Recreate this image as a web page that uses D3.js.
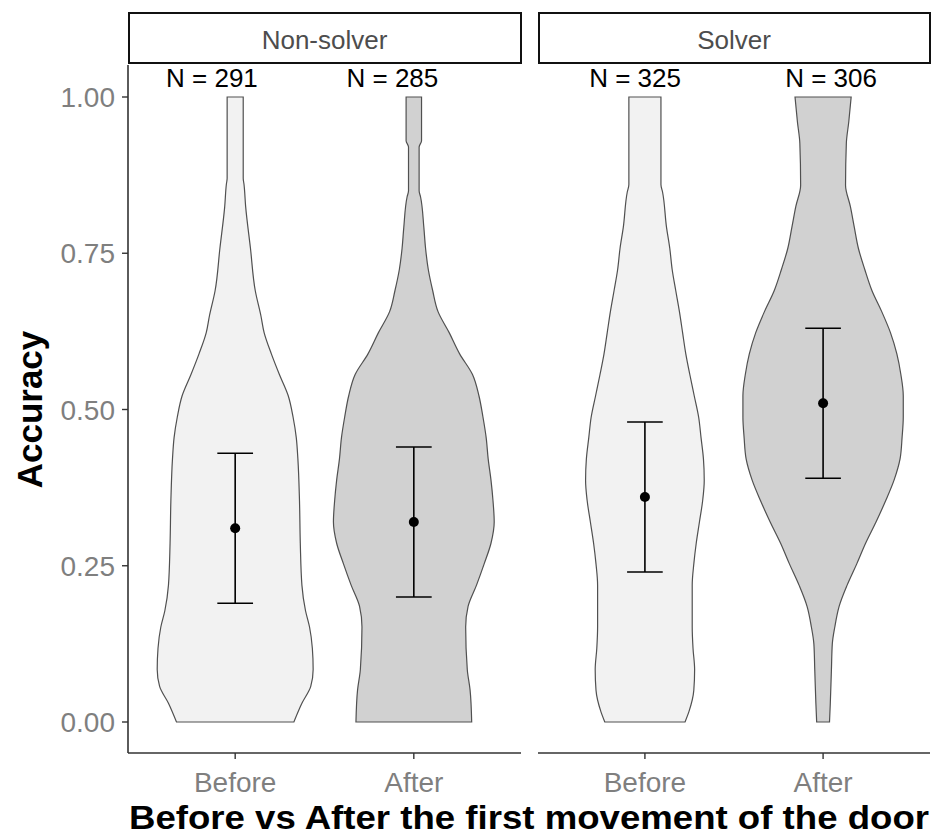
<!DOCTYPE html>
<html>
<head>
<meta charset="utf-8">
<script src="https://cdn.jsdelivr.net/npm/d3@7"></script>
<style>
  html, body { margin: 0; padding: 0; background: #fff; }
  svg { display: block; font-family: "Liberation Sans", Arial, sans-serif; }
</style>
</head>
<body>
<svg id="chart" width="940" height="837"></svg>
<script>
// ---------------- data ----------------
const groups = ["Non-solver", "Solver"];
const conditions = ["Before", "After"];
const nCounts = [[291, 285], [325, 306]];
const yTicks = [0, 0.25, 0.5, 0.75, 1.0];

const means = [[0.31, 0.32], [0.36, 0.51]];
const lowers = [[0.19, 0.20], [0.24, 0.39]];
const uppers = [[0.43, 0.44], [0.48, 0.63]];

// violin profiles: accuracy level and relative density
const accNSBefore  = [0, 0.030, 0.057, 0.084, 0.118, 0.152, 0.178, 0.219, 0.286, 0.354, 0.421, 0.455, 0.488, 0.522, 0.556, 0.589, 0.623, 0.650, 0.690, 0.758, 0.825, 0.860, 0.870, 1.0];
const densNSBefore = [0.73, 0.83, 0.94, 0.97, 0.96, 0.925, 0.875, 0.83, 0.81, 0.80, 0.78, 0.76, 0.72, 0.66, 0.55, 0.45, 0.36, 0.32, 0.25, 0.19, 0.13, 0.11, 0.10, 0.10];

const accNSAfter  = [0, 0.051, 0.084, 0.152, 0.185, 0.219, 0.253, 0.286, 0.320, 0.354, 0.387, 0.421, 0.455, 0.488, 0.522, 0.556, 0.589, 0.623, 0.657, 0.690, 0.724, 0.758, 0.791, 0.840, 0.850, 0.920, 0.930, 1.0];
const densNSAfter = [0.72, 0.70, 0.665, 0.645, 0.675, 0.78, 0.875, 0.96, 1.0, 0.985, 0.96, 0.925, 0.90, 0.86, 0.81, 0.73, 0.57, 0.44, 0.30, 0.235, 0.18, 0.146, 0.125, 0.084, 0.066, 0.066, 0.096, 0.096];

const accSBefore  = [0, 0.017, 0.051, 0.084, 0.118, 0.152, 0.219, 0.253, 0.286, 0.320, 0.354, 0.387, 0.421, 0.455, 0.488, 0.522, 0.556, 0.589, 0.623, 0.657, 0.690, 0.724, 0.758, 0.791, 0.848, 0.860, 1.0];
const densSBefore = [0.50, 0.55, 0.61, 0.62, 0.60, 0.59, 0.59, 0.61, 0.64, 0.68, 0.72, 0.74, 0.73, 0.70, 0.67, 0.615, 0.56, 0.51, 0.47, 0.43, 0.385, 0.34, 0.31, 0.27, 0.22, 0.20, 0.20];

const accSAfter  = [0, 0.030, 0.084, 0.125, 0.152, 0.185, 0.219, 0.253, 0.286, 0.320, 0.354, 0.387, 0.421, 0.455, 0.488, 0.522, 0.556, 0.589, 0.623, 0.657, 0.690, 0.724, 0.758, 0.791, 0.825, 0.859, 0.926, 0.960, 1.0];
const densSAfter = [0.08, 0.09, 0.104, 0.115, 0.146, 0.20, 0.30, 0.42, 0.53, 0.66, 0.78, 0.885, 0.96, 0.985, 1.0, 1.0, 0.97, 0.92, 0.84, 0.73, 0.61, 0.52, 0.44, 0.39, 0.34, 0.28, 0.29, 0.32, 0.35];

const violinAcc  = [[accNSBefore, accNSAfter], [accSBefore, accSAfter]];
const violinDens = [[densNSBefore, densNSAfter], [densSBefore, densSAfter]];

// N-label horizontal nudges (category units)
const nNudges = [[-0.13, -0.12], [-0.055, 0.045]];

// ---------------- layout ----------------
const svg = d3.select("#chart");
const panelX = [[128, 521], [538, 930]];
const panelTop = 65, panelBottom = 753;
const fillColors = { "Before": "#f2f2f2", "After": "#d1d1d1" };

const y = d3.scaleLinear().domain([0, 1]).range([722, 97]);

// y axis (left panel only)
const yAxisG = svg.append("g").attr("transform", `translate(${panelX[0][0]},0)`);
yAxisG.append("line").attr("x1", 0).attr("x2", 0).attr("y1", panelTop).attr("y2", panelBottom)
  .attr("stroke", "#333").attr("stroke-width", 1.6);
yTicks.forEach(t => {
  yAxisG.append("line").attr("x1", -6).attr("x2", 0).attr("y1", y(t)).attr("y2", y(t))
    .attr("stroke", "#333").attr("stroke-width", 1.4);
  yAxisG.append("text").attr("x", -13).attr("y", y(t)).attr("dy", "0.36em")
    .attr("text-anchor", "end").attr("fill", "#7f7f7f").attr("font-size", 28)
    .text(d3.format(".2f")(t));
});

svg.append("text")
  .attr("transform", `translate(42,${y(0.5)}) rotate(-90)`)
  .attr("text-anchor", "middle").attr("font-weight", "bold").attr("font-size", 35)
  .attr("fill", "#000").text("Accuracy");

groups.forEach((g, gi) => {
  const [x0, x1] = panelX[gi];
  const x = d3.scalePoint().domain(conditions).range([x0, x1]).padding(0.6);
  const unit = x.step();
  const w = d3.scaleLinear().domain([0, 1]).range([0, unit * 0.45]);

  // strip
  svg.append("rect").attr("x", x0 + 1).attr("y", 13).attr("width", x1 - x0 - 1).attr("height", 50)
    .attr("fill", "#fff").attr("stroke", "#111").attr("stroke-width", 2);
  svg.append("text").attr("x", (x0 + x1) / 2).attr("y", 49).attr("text-anchor", "middle")
    .attr("font-size", 26).attr("fill", "#4d4d4d").text(g);

  // bottom axis
  svg.append("line").attr("x1", x0).attr("x2", x1).attr("y1", panelBottom).attr("y2", panelBottom)
    .attr("stroke", "#333").attr("stroke-width", 1.6);

  conditions.forEach((c, ci) => {
    const cx = x(c);
    const data = violinAcc[gi][ci].map((a, i) => ({ acc: a, dens: violinDens[gi][ci][i] }));
    const area = d3.area()
      .y(d => y(d.acc))
      .x0(d => cx - w(d.dens))
      .x1(d => cx + w(d.dens))
      .curve(d3.curveMonotoneY);
    svg.append("path").datum(data).attr("d", area)
      .attr("fill", fillColors[c]).attr("stroke", "#505050").attr("stroke-width", 1.2);

    // error bar
    const capHalf = unit * 0.1;
    const eb = svg.append("g").attr("stroke", "#000").attr("stroke-width", 1.6);
    eb.append("line").attr("x1", cx).attr("x2", cx).attr("y1", y(lowers[gi][ci])).attr("y2", y(uppers[gi][ci]));
    eb.append("line").attr("x1", cx - capHalf).attr("x2", cx + capHalf).attr("y1", y(lowers[gi][ci])).attr("y2", y(lowers[gi][ci]));
    eb.append("line").attr("x1", cx - capHalf).attr("x2", cx + capHalf).attr("y1", y(uppers[gi][ci])).attr("y2", y(uppers[gi][ci]));
    svg.append("circle").attr("cx", cx).attr("cy", y(means[gi][ci])).attr("r", 5).attr("fill", "#000");

    // N label
    svg.append("text").attr("x", cx + nNudges[gi][ci] * unit).attr("y", 87)
      .attr("text-anchor", "middle").attr("font-size", 26).attr("fill", "#000")
      .text(`N = ${nCounts[gi][ci]}`);

    // x tick + label
    svg.append("line").attr("x1", cx).attr("x2", cx).attr("y1", panelBottom).attr("y2", panelBottom + 6)
      .attr("stroke", "#333").attr("stroke-width", 1.4);
    svg.append("text").attr("x", cx).attr("y", 792).attr("text-anchor", "middle")
      .attr("font-size", 28).attr("fill", "#7f7f7f").text(c);
  });
});

svg.append("text").attr("x", (panelX[0][0] + panelX[1][1]) / 2).attr("y", 829)
  .attr("text-anchor", "middle").attr("font-weight", "bold").attr("font-size", 34)
  .attr("textLength", 800).attr("lengthAdjust", "spacingAndGlyphs")
  .attr("fill", "#000").text("Before vs After the first movement of the door");
</script>
</body>
</html>
